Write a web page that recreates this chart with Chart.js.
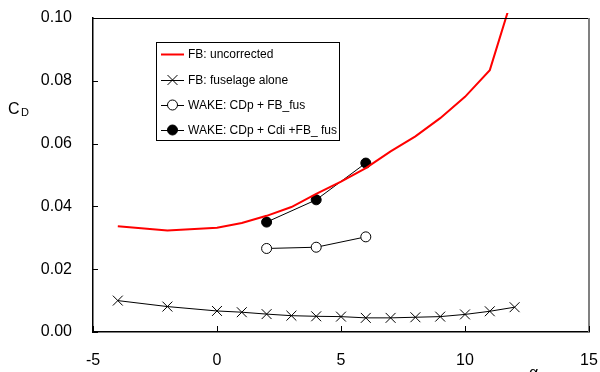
<!DOCTYPE html>
<html>
<head>
<meta charset="utf-8">
<script src="https://cdn.jsdelivr.net/npm/chart.js@4/dist/chart.umd.min.js"></script>
<style>
  html, body { margin: 0; padding: 0; background: #fff; }
  #wrap { width: 600px; height: 372px; position: relative; }
</style>
</head>
<body>
<div id="wrap"><canvas id="c" width="600" height="372"></canvas></div>
<script>
// ---- data ----
const alpha = [-4, -2, 0, 1, 2, 3, 4, 5, 6, 7, 8, 9, 10, 11, 12];
const fbUncorrected = [0.0337, 0.0323, 0.0332, 0.0347, 0.0370, 0.0398, 0.0440, 0.0479, 0.0522, 0.0575, 0.0623, 0.0681, 0.0749, 0.0834, 0.1090];
const fbFuselage = [0.0100, 0.0081, 0.0067, 0.0063, 0.0057, 0.0052, 0.0050, 0.0049, 0.0045, 0.0045, 0.0047, 0.0049, 0.0056, 0.0066, 0.0079];
const wakeAlpha = [2, 4, 6];
const wakeCDp = [0.0266, 0.0270, 0.0303];
const wakeCDpCDi = [0.0350, 0.0421, 0.0538];
const seriesLabels = ['FB: uncorrected', 'FB: fuselage alone', 'WAKE: CDp + FB_fus', 'WAKE: CDp + Cdi +FB_ fus'];
const xTicks = { min: -5, max: 15, step: 5 };
const yTicks = { min: 0, max: 0.10, step: 0.02 };

const pts = (xs, ys) => xs.map((x, i) => ({ x: x, y: ys[i] }));

const FONT = 'Arial, "Liberation Sans", sans-serif';

const deco = {
  id: 'deco',
  afterDraw(chart) {
    const { ctx, chartArea: a, scales: { x, y } } = chart;
    ctx.save();
    const line = (x1, y1, x2, y2) => { ctx.beginPath(); ctx.moveTo(x1, y1); ctx.lineTo(x2, y2); ctx.stroke(); };
    // top frame line
    ctx.strokeStyle = '#000'; ctx.lineWidth = 1;
    line(a.left, a.top + 0.5, a.right, a.top + 0.5);
    // right frame line (grey)
    ctx.strokeStyle = '#808080'; ctx.lineWidth = 2;
    line(a.right, a.top, a.right, a.bottom);
    // inward tick marks
    ctx.strokeStyle = '#000'; ctx.lineWidth = 1;
    y.ticks.forEach(t => { const py = Math.round(y.getPixelForValue(t.value)) + 0.5; line(a.left, py, a.left + 5, py); });
    x.ticks.forEach(t => { const px = Math.round(x.getPixelForValue(t.value)) + 0.5; line(px, a.bottom, px, a.bottom - 6); });

    // axis titles
    ctx.fillStyle = '#000';
    ctx.textBaseline = 'alphabetic';
    ctx.textAlign = 'left';
    ctx.font = '16px ' + FONT;
    ctx.fillText('C', 8, 114);
    ctx.font = '11px ' + FONT;
    ctx.fillText('D', 21, 116);
    ctx.font = '16px ' + FONT;
    ctx.fillText('α', 529, 378);

    // legend box
    const lx = 156, ly = 42, lw = 183, lh = 98;
    ctx.fillStyle = '#fff';
    ctx.fillRect(lx, ly, lw, lh);
    ctx.strokeStyle = '#000'; ctx.lineWidth = 1;
    ctx.strokeRect(lx + 0.5, ly + 0.5, lw, lh);
    const rows = [54, 80, 105, 130];
    chart.data.datasets.forEach((ds, i) => {
      const cy = rows[i];
      const x1 = 161, x2 = 184, cx = (x1 + x2) / 2;
      ctx.strokeStyle = ds.borderColor; ctx.lineWidth = ds.borderWidth;
      line(x1, cy + 0.5, x2, cy + 0.5);
      ctx.lineWidth = 1; ctx.strokeStyle = '#000';
      if (ds.pointStyle === 'crossRot' && ds.pointRadius > 0) {
        const o = ds.pointRadius * Math.SQRT1_2;
        line(cx - o, cy - o, cx + o, cy + o);
        line(cx - o, cy + o, cx + o, cy - o);
      } else if (ds.pointStyle === 'circle' && ds.pointRadius > 0) {
        ctx.beginPath(); ctx.arc(cx, cy, ds.pointRadius, 0, Math.PI * 2);
        ctx.fillStyle = ds.pointBackgroundColor; ctx.fill(); ctx.stroke();
      }
      ctx.fillStyle = '#000';
      ctx.font = '12px ' + FONT;
      ctx.textBaseline = 'middle';
      ctx.fillText(ds.label, 188, cy + 1);
    });
    ctx.restore();
  }
};

const zeroPad = s => { s.paddingLeft = 0; s.paddingRight = 0; s.paddingTop = 0; s.paddingBottom = 0; };

new Chart(document.getElementById('c'), {
  type: 'line',
  data: {
    datasets: [
      {
        label: seriesLabels[0],
        data: pts(alpha, fbUncorrected),
        borderColor: '#ff0000', borderWidth: 2,
        pointRadius: 0, pointStyle: 'line',
        tension: 0,
        clip: { left: 0, top: 5, right: 0, bottom: 0 }
      },
      {
        label: seriesLabels[1],
        data: pts(alpha, fbFuselage),
        borderColor: '#000', borderWidth: 1,
        pointStyle: 'crossRot', pointRadius: 7, pointBorderWidth: 1,
        pointBorderColor: '#000', pointBackgroundColor: '#000',
        tension: 0
      },
      {
        label: seriesLabels[2],
        data: pts(wakeAlpha, wakeCDp),
        borderColor: '#000', borderWidth: 1,
        pointStyle: 'circle', pointRadius: 5, pointBorderWidth: 1,
        pointBorderColor: '#000', pointBackgroundColor: '#fff',
        tension: 0
      },
      {
        label: seriesLabels[3],
        data: pts(wakeAlpha, wakeCDpCDi),
        borderColor: '#000', borderWidth: 1,
        pointStyle: 'circle', pointRadius: 5, pointBorderWidth: 1,
        pointBorderColor: '#000', pointBackgroundColor: '#000',
        tension: 0
      }
    ]
  },
  options: {
    responsive: false,
    animation: false,
    events: [],
    layout: { padding: { top: 18, right: 11, left: 0, bottom: 0 } },
    plugins: { legend: { display: false }, tooltip: { enabled: false } },
    scales: {
      x: {
        type: 'linear',
        min: xTicks.min, max: xTicks.max,
        grid: { display: false },
        border: { display: true, color: '#000', width: 1.5 },
        ticks: { stepSize: xTicks.step, color: '#000', padding: 11, maxRotation: 0,
                 font: { family: FONT, size: 16 } },
        afterFit(s) { s.height = 40; zeroPad(s); }
      },
      y: {
        type: 'linear',
        min: yTicks.min, max: yTicks.max,
        grid: { display: false },
        border: { display: true, color: '#000', width: 1.5 },
        ticks: { stepSize: yTicks.step, color: '#000', padding: 13,
                 font: { family: FONT, size: 16 },
                 callback: v => v.toFixed(2) },
        afterFit(s) { s.width = 93; zeroPad(s); }
      }
    }
  },
  plugins: [deco]
});
</script>
</body>
</html>
